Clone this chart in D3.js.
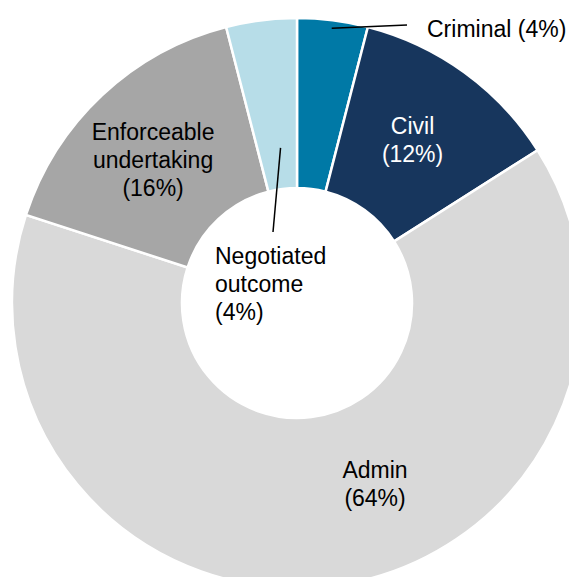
<!DOCTYPE html>
<html>
<head>
<meta charset="utf-8">
<script src="https://cdn.jsdelivr.net/npm/d3@7"></script>
<style>
  html, body { margin: 0; padding: 0; background: #fff; }
  svg text { font-family: "Liberation Sans", Arial, sans-serif; font-size: 23px; }
</style>
</head>
<body>
<div id="wrapper"></div>
<script>
// data
const categories = ["Criminal", "Civil", "Admin", "Enforceable undertaking", "Negotiated outcome"];
const shares = [4, 12, 64, 16, 4];
const colors = ["#0079a6", "#17365d", "#d9d9d9", "#a6a6a6", "#b7dde8"];

function drawDonut() {
  const width = 569;
  const height = 577;
  const cx = 297;
  const cy = 303;
  const outerRadius = 285;
  const innerRadius = 115;

  const dataset = categories.map((c, i) => ({ name: c, value: shares[i], color: colors[i] }));

  const svg = d3.select("#wrapper")
    .append("svg")
    .attr("width", width)
    .attr("height", height);

  const bounds = svg.append("g")
    .attr("transform", `translate(${cx},${cy})`);

  const pie = d3.pie().sort(null).value((d) => d.value);
  const arc = d3.arc().innerRadius(innerRadius).outerRadius(outerRadius);
  const arcs = pie(dataset);

  bounds.selectAll("path")
    .data(arcs)
    .join("path")
    .attr("d", arc)
    .attr("fill", (d) => d.data.color)
    .attr("stroke", "#fff")
    .attr("stroke-width", 2.5);

  // point at angle (radians, clockwise from top) and radius
  const polar = (a, r) => [r * Math.sin(a), -r * Math.cos(a)];

  // labels: lines of text, anchor, placement relative to the slice centroid
  const lineH = 28;
  const labels = [
    { i: 0, lines: ["Criminal (4%)"], x: 130, y: -266, anchor: "start", fill: "#000" },
    { i: 1, lines: ["Civil", "(12%)"], dx: -2, dy: -1, anchor: "middle", fill: "#fff" },
    { i: 2, lines: ["Admin", "(64%)"], dx: 53, dy: -17, anchor: "middle", fill: "#000" },
    { i: 3, lines: ["Enforceable", "undertaking", "(16%)"], dx: -7, dy: 3, anchor: "middle", fill: "#000" },
    { i: 4, lines: ["Negotiated", "outcome", "(4%)"], x: -82, y: -39, anchor: "start", fill: "#000" },
  ];

  labels.forEach((l) => {
    const c = arc.centroid(arcs[l.i]);
    let x, y0;
    if (l.x !== undefined) {
      x = l.x;
      y0 = l.y;
    } else {
      x = c[0] + l.dx;
      const yMid = c[1] + l.dy;
      y0 = yMid - ((l.lines.length - 1) * lineH) / 2 + 8;
    }
    const t = bounds.append("text")
      .attr("text-anchor", l.anchor)
      .attr("fill", l.fill);
    l.lines.forEach((s, k) => {
      t.append("tspan").attr("x", x).attr("y", y0 + k * lineH).text(s);
    });
  });

  // leader lines
  const crim = arcs[0];
  const crimA = (crim.startAngle + crim.endAngle) / 2;
  const p1 = polar(crimA, 277);
  bounds.append("line")
    .attr("x1", p1[0]).attr("y1", p1[1])
    .attr("x2", 110).attr("y2", -278)
    .attr("stroke", "#000").attr("stroke-width", 1.5);

  const neg = arcs[4];
  const negA = (neg.startAngle + neg.endAngle) / 2 + 0.02;
  const q1 = polar(negA, 156);
  bounds.append("line")
    .attr("x1", q1[0]).attr("y1", q1[1])
    .attr("x2", -24).attr("y2", -71)
    .attr("stroke", "#000").attr("stroke-width", 1.5);
}

drawDonut();
</script>
</body>
</html>
